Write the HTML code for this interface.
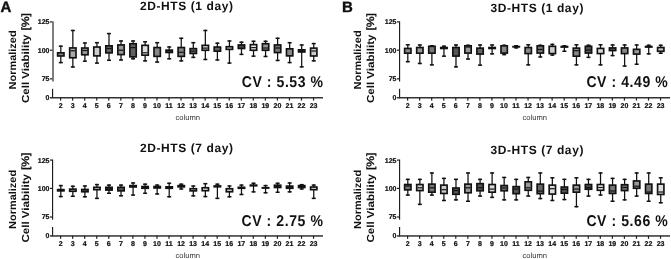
<!DOCTYPE html>
<html><head><meta charset="utf-8"><style>
html,body{margin:0;padding:0;background:#fff;width:671px;height:259px;overflow:hidden}
svg{display:block;will-change:transform}
text{font-family:"Liberation Sans", sans-serif;text-rendering:geometricPrecision}
</style></head><body>
<svg width="671" height="259" viewBox="0 0 671 259">
<rect width="671" height="259" fill="#fff"/>
<rect x="52" y="21.3" width="2" height="60.2" fill="#7e7e7e"/>
<rect x="52" y="88.8" width="1.15" height="9.4" fill="#1e1e1e"/>
<rect x="50" y="21.3" width="2.3" height="1.2" fill="#222"/>
<rect x="50" y="49.6" width="2.3" height="1.2" fill="#222"/>
<rect x="50" y="78.2" width="2.3" height="1.2" fill="#222"/>
<rect x="50" y="97" width="273" height="1.5" fill="#333"/>
<rect x="60" y="97.6" width="1.2" height="3" fill="#222"/>
<rect x="72.05" y="97.6" width="1.2" height="3" fill="#222"/>
<rect x="84.09" y="97.6" width="1.2" height="3" fill="#222"/>
<rect x="96.14" y="97.6" width="1.2" height="3" fill="#222"/>
<rect x="108.18" y="97.6" width="1.2" height="3" fill="#222"/>
<rect x="120.23" y="97.6" width="1.2" height="3" fill="#222"/>
<rect x="132.27" y="97.6" width="1.2" height="3" fill="#222"/>
<rect x="144.31" y="97.6" width="1.2" height="3" fill="#222"/>
<rect x="156.36" y="97.6" width="1.2" height="3" fill="#222"/>
<rect x="168.41" y="97.6" width="1.2" height="3" fill="#222"/>
<rect x="180.45" y="97.6" width="1.2" height="3" fill="#222"/>
<rect x="192.5" y="97.6" width="1.2" height="3" fill="#222"/>
<rect x="204.54" y="97.6" width="1.2" height="3" fill="#222"/>
<rect x="216.59" y="97.6" width="1.2" height="3" fill="#222"/>
<rect x="228.63" y="97.6" width="1.2" height="3" fill="#222"/>
<rect x="240.68" y="97.6" width="1.2" height="3" fill="#222"/>
<rect x="252.72" y="97.6" width="1.2" height="3" fill="#222"/>
<rect x="264.76" y="97.6" width="1.2" height="3" fill="#222"/>
<rect x="276.81" y="97.6" width="1.2" height="3" fill="#222"/>
<rect x="288.85" y="97.6" width="1.2" height="3" fill="#222"/>
<rect x="300.9" y="97.6" width="1.2" height="3" fill="#222"/>
<rect x="312.94" y="97.6" width="1.2" height="3" fill="#222"/>
<g font-family="Liberation Sans, sans-serif" font-weight="bold" font-size="7" fill="#111" stroke="#111" stroke-width="0.22" text-anchor="end">
<text x="49.5" y="24.35">125</text>
<text x="49.5" y="52.65">100</text>
<text x="49.5" y="81.25">75</text>
<text x="49.5" y="100.05">0</text>
</g>
<g font-family="Liberation Sans, sans-serif" font-weight="bold" font-size="7" fill="#111" stroke="#111" stroke-width="0.22" text-anchor="middle">
<text x="60.6" y="108.1">2</text>
<text x="72.64" y="108.1">3</text>
<text x="84.69" y="108.1">4</text>
<text x="96.73" y="108.1">5</text>
<text x="108.78" y="108.1">6</text>
<text x="120.83" y="108.1">7</text>
<text x="132.87" y="108.1">8</text>
<text x="144.91" y="108.1">9</text>
<text x="156.96" y="108.1">10</text>
<text x="169" y="108.1">11</text>
<text x="181.05" y="108.1">12</text>
<text x="193.09" y="108.1">13</text>
<text x="205.14" y="108.1">14</text>
<text x="217.19" y="108.1">15</text>
<text x="229.23" y="108.1">16</text>
<text x="241.28" y="108.1">17</text>
<text x="253.32" y="108.1">18</text>
<text x="265.37" y="108.1">19</text>
<text x="277.41" y="108.1">20</text>
<text x="289.45" y="108.1">21</text>
<text x="301.5" y="108.1">22</text>
<text x="313.55" y="108.1">23</text>
</g>
<text x="187.7" y="119.6" font-family="Liberation Sans, sans-serif" font-size="7.6" fill="#333" text-anchor="middle">column</text>
<g>
<rect x="60.18" y="45.45" width="1.25" height="17.85" fill="#111"/>
<rect x="58.8" y="45.45" width="4" height="1.5" fill="#111"/>
<rect x="58.8" y="61.8" width="4" height="1.5" fill="#111"/>
<rect x="56.8" y="52" width="8" height="4.8" fill="#111"/>
<rect x="58.45" y="53.65" width="4.7" height="1.5" fill="#888"/>
</g>
<g>
<rect x="72.22" y="29.75" width="1.25" height="37.95" fill="#111"/>
<rect x="70.84" y="29.75" width="4" height="1.5" fill="#111"/>
<rect x="70.84" y="66.2" width="4" height="1.5" fill="#111"/>
<rect x="68.84" y="47.1" width="8" height="11.5" fill="#111"/>
<rect x="70.5" y="48.75" width="4.7" height="8.2" fill="#aaa"/>
<rect x="70.5" y="50.2" width="4.7" height="1.2" fill="#111"/>
</g>
<g>
<rect x="84.27" y="42.25" width="1.25" height="19.65" fill="#111"/>
<rect x="82.89" y="42.25" width="4" height="1.5" fill="#111"/>
<rect x="82.89" y="60.4" width="4" height="1.5" fill="#111"/>
<rect x="80.89" y="47.2" width="8" height="8.4" fill="#111"/>
<rect x="82.54" y="48.85" width="4.7" height="5.1" fill="#999"/>
<rect x="82.54" y="49.9" width="4.7" height="1.2" fill="#111"/>
</g>
<g>
<rect x="96.31" y="41.95" width="1.25" height="21.85" fill="#111"/>
<rect x="94.94" y="41.95" width="4" height="1.5" fill="#111"/>
<rect x="94.94" y="62.3" width="4" height="1.5" fill="#111"/>
<rect x="92.94" y="46.2" width="8" height="10.5" fill="#111"/>
<rect x="94.59" y="47.85" width="4.7" height="7.2" fill="#ccc"/>
</g>
<g>
<rect x="108.36" y="32.85" width="1.25" height="28.15" fill="#111"/>
<rect x="106.98" y="32.85" width="4" height="1.5" fill="#111"/>
<rect x="106.98" y="59.5" width="4" height="1.5" fill="#111"/>
<rect x="104.98" y="45" width="8" height="8.7" fill="#111"/>
<rect x="106.63" y="46.65" width="4.7" height="5.4" fill="#666"/>
<rect x="106.63" y="47.9" width="4.7" height="1.2" fill="#111"/>
</g>
<g>
<rect x="120.4" y="40.25" width="1.25" height="20.45" fill="#111"/>
<rect x="119.03" y="40.25" width="4" height="1.5" fill="#111"/>
<rect x="119.03" y="59.2" width="4" height="1.5" fill="#111"/>
<rect x="117.03" y="44.1" width="8" height="11.3" fill="#111"/>
<rect x="118.68" y="45.75" width="4.7" height="8" fill="#999"/>
<rect x="118.68" y="49.6" width="4.7" height="1.2" fill="#111"/>
</g>
<g>
<rect x="132.44" y="40.25" width="1.25" height="19.25" fill="#111"/>
<rect x="131.07" y="40.25" width="4" height="1.5" fill="#111"/>
<rect x="131.07" y="58" width="4" height="1.5" fill="#111"/>
<rect x="129.07" y="42.9" width="8" height="14.8" fill="#111"/>
<rect x="130.72" y="44.55" width="4.7" height="11.5" fill="#606060"/>
<rect x="130.72" y="47" width="4.7" height="1.2" fill="#111"/>
</g>
<g>
<rect x="144.49" y="41.05" width="1.25" height="20.55" fill="#111"/>
<rect x="143.11" y="41.05" width="4" height="1.5" fill="#111"/>
<rect x="143.11" y="60.1" width="4" height="1.5" fill="#111"/>
<rect x="141.11" y="44.5" width="8" height="11.5" fill="#111"/>
<rect x="142.76" y="46.15" width="4.7" height="8.2" fill="#ddd"/>
<rect x="142.76" y="52.2" width="4.7" height="1.2" fill="#111"/>
</g>
<g>
<rect x="156.53" y="41.95" width="1.25" height="20.85" fill="#111"/>
<rect x="155.16" y="41.95" width="4" height="1.5" fill="#111"/>
<rect x="155.16" y="61.3" width="4" height="1.5" fill="#111"/>
<rect x="153.16" y="46.7" width="8" height="10.5" fill="#111"/>
<rect x="154.81" y="48.35" width="4.7" height="7.2" fill="#888"/>
</g>
<g>
<rect x="168.58" y="46.25" width="1.25" height="13.25" fill="#111"/>
<rect x="167.2" y="46.25" width="4" height="1.5" fill="#111"/>
<rect x="167.2" y="58" width="4" height="1.5" fill="#111"/>
<rect x="165.2" y="49.3" width="8" height="4" fill="#111"/>
<rect x="166.85" y="50.95" width="4.7" height="0.7" fill="#333"/>
</g>
<g>
<rect x="180.62" y="37.55" width="1.25" height="24.05" fill="#111"/>
<rect x="179.25" y="37.55" width="4" height="1.5" fill="#111"/>
<rect x="179.25" y="60.1" width="4" height="1.5" fill="#111"/>
<rect x="177.25" y="46.7" width="8" height="10.5" fill="#111"/>
<rect x="178.9" y="48.35" width="4.7" height="7.2" fill="#888"/>
<rect x="178.9" y="51.7" width="4.7" height="1.2" fill="#111"/>
</g>
<g>
<rect x="192.67" y="41.95" width="1.25" height="16.15" fill="#111"/>
<rect x="191.29" y="41.95" width="4" height="1.5" fill="#111"/>
<rect x="191.29" y="56.6" width="4" height="1.5" fill="#111"/>
<rect x="189.29" y="47.8" width="8" height="6.5" fill="#111"/>
<rect x="190.94" y="49.45" width="4.7" height="3.2" fill="#777"/>
<rect x="190.94" y="50.5" width="4.7" height="1.2" fill="#111"/>
</g>
<g>
<rect x="204.71" y="29.75" width="1.25" height="30.45" fill="#111"/>
<rect x="203.34" y="29.75" width="4" height="1.5" fill="#111"/>
<rect x="203.34" y="58.7" width="4" height="1.5" fill="#111"/>
<rect x="201.34" y="44.5" width="8" height="6.6" fill="#111"/>
<rect x="202.99" y="46.15" width="4.7" height="3.3" fill="#d4d4d4"/>
<rect x="202.99" y="47.5" width="4.7" height="1.2" fill="#111"/>
</g>
<g>
<rect x="216.76" y="42.45" width="1.25" height="18.25" fill="#111"/>
<rect x="215.38" y="42.45" width="4" height="1.5" fill="#111"/>
<rect x="215.38" y="59.2" width="4" height="1.5" fill="#111"/>
<rect x="213.38" y="46.2" width="8" height="5.8" fill="#111"/>
<rect x="215.03" y="47.85" width="4.7" height="2.5" fill="#666"/>
</g>
<g>
<rect x="228.8" y="40.25" width="1.25" height="23.55" fill="#111"/>
<rect x="227.43" y="40.25" width="4" height="1.5" fill="#111"/>
<rect x="227.43" y="62.3" width="4" height="1.5" fill="#111"/>
<rect x="225.43" y="45.9" width="8" height="4.3" fill="#111"/>
<rect x="227.08" y="47.55" width="4.7" height="1" fill="#ccc"/>
</g>
<g>
<rect x="240.85" y="41.45" width="1.25" height="13.65" fill="#111"/>
<rect x="239.47" y="41.45" width="4" height="1.5" fill="#111"/>
<rect x="239.47" y="53.6" width="4" height="1.5" fill="#111"/>
<rect x="237.47" y="44.1" width="8" height="5.2" fill="#111"/>
<rect x="239.12" y="45.75" width="4.7" height="1.9" fill="#444"/>
</g>
<g>
<rect x="252.89" y="40.55" width="1.25" height="16.35" fill="#111"/>
<rect x="251.52" y="40.55" width="4" height="1.5" fill="#111"/>
<rect x="251.52" y="55.4" width="4" height="1.5" fill="#111"/>
<rect x="249.52" y="43.8" width="8" height="7.3" fill="#111"/>
<rect x="251.17" y="45.45" width="4.7" height="4" fill="#eee"/>
<rect x="251.17" y="47" width="4.7" height="1.2" fill="#111"/>
</g>
<g>
<rect x="264.94" y="40.55" width="1.25" height="16.65" fill="#111"/>
<rect x="263.56" y="40.55" width="4" height="1.5" fill="#111"/>
<rect x="263.56" y="55.7" width="4" height="1.5" fill="#111"/>
<rect x="261.56" y="42.9" width="8" height="8.2" fill="#111"/>
<rect x="263.21" y="44.55" width="4.7" height="4.9" fill="#999"/>
<rect x="263.21" y="47.4" width="4.7" height="1.2" fill="#111"/>
</g>
<g>
<rect x="276.99" y="37.55" width="1.25" height="23.65" fill="#111"/>
<rect x="275.61" y="37.55" width="4" height="1.5" fill="#111"/>
<rect x="275.61" y="59.7" width="4" height="1.5" fill="#111"/>
<rect x="273.61" y="44.1" width="8" height="9.3" fill="#111"/>
<rect x="275.26" y="45.75" width="4.7" height="6" fill="#777"/>
<rect x="275.26" y="47.4" width="4.7" height="1.2" fill="#111"/>
</g>
<g>
<rect x="289.03" y="41.95" width="1.25" height="21.35" fill="#111"/>
<rect x="287.65" y="41.95" width="4" height="1.5" fill="#111"/>
<rect x="287.65" y="61.8" width="4" height="1.5" fill="#111"/>
<rect x="285.65" y="48" width="8" height="8.7" fill="#111"/>
<rect x="287.3" y="49.65" width="4.7" height="5.4" fill="#888"/>
</g>
<g>
<rect x="301.07" y="44.25" width="1.25" height="23.35" fill="#111"/>
<rect x="299.7" y="44.25" width="4" height="1.5" fill="#111"/>
<rect x="299.7" y="66.1" width="4" height="1.5" fill="#111"/>
<rect x="297.7" y="49" width="8" height="3.8" fill="#111"/>
<rect x="299.35" y="50.65" width="4.7" height="0.5" fill="#222"/>
</g>
<g>
<rect x="313.12" y="42.85" width="1.25" height="18.75" fill="#111"/>
<rect x="311.75" y="42.85" width="4" height="1.5" fill="#111"/>
<rect x="311.75" y="60.1" width="4" height="1.5" fill="#111"/>
<rect x="309.75" y="47.3" width="8" height="9.5" fill="#111"/>
<rect x="311.39" y="48.95" width="4.7" height="6.2" fill="#ccc"/>
<rect x="311.39" y="50.4" width="4.7" height="1.2" fill="#111"/>
</g>
<rect x="52" y="159.5" width="1.15" height="60.2" fill="#1e1e1e"/>
<rect x="52" y="227" width="1.15" height="9.4" fill="#1e1e1e"/>
<rect x="50" y="159.5" width="2.3" height="1.2" fill="#222"/>
<rect x="50" y="187.8" width="2.3" height="1.2" fill="#222"/>
<rect x="50" y="216.4" width="2.3" height="1.2" fill="#222"/>
<rect x="50" y="235.2" width="273" height="1.5" fill="#333"/>
<rect x="60" y="235.8" width="1.2" height="3" fill="#222"/>
<rect x="72.05" y="235.8" width="1.2" height="3" fill="#222"/>
<rect x="84.09" y="235.8" width="1.2" height="3" fill="#222"/>
<rect x="96.14" y="235.8" width="1.2" height="3" fill="#222"/>
<rect x="108.18" y="235.8" width="1.2" height="3" fill="#222"/>
<rect x="120.23" y="235.8" width="1.2" height="3" fill="#222"/>
<rect x="132.27" y="235.8" width="1.2" height="3" fill="#222"/>
<rect x="144.31" y="235.8" width="1.2" height="3" fill="#222"/>
<rect x="156.36" y="235.8" width="1.2" height="3" fill="#222"/>
<rect x="168.41" y="235.8" width="1.2" height="3" fill="#222"/>
<rect x="180.45" y="235.8" width="1.2" height="3" fill="#222"/>
<rect x="192.5" y="235.8" width="1.2" height="3" fill="#222"/>
<rect x="204.54" y="235.8" width="1.2" height="3" fill="#222"/>
<rect x="216.59" y="235.8" width="1.2" height="3" fill="#222"/>
<rect x="228.63" y="235.8" width="1.2" height="3" fill="#222"/>
<rect x="240.68" y="235.8" width="1.2" height="3" fill="#222"/>
<rect x="252.72" y="235.8" width="1.2" height="3" fill="#222"/>
<rect x="264.76" y="235.8" width="1.2" height="3" fill="#222"/>
<rect x="276.81" y="235.8" width="1.2" height="3" fill="#222"/>
<rect x="288.85" y="235.8" width="1.2" height="3" fill="#222"/>
<rect x="300.9" y="235.8" width="1.2" height="3" fill="#222"/>
<rect x="312.94" y="235.8" width="1.2" height="3" fill="#222"/>
<g font-family="Liberation Sans, sans-serif" font-weight="bold" font-size="7" fill="#111" stroke="#111" stroke-width="0.22" text-anchor="end">
<text x="49.5" y="162.55">125</text>
<text x="49.5" y="190.85">100</text>
<text x="49.5" y="219.45">75</text>
<text x="49.5" y="238.25">0</text>
</g>
<g font-family="Liberation Sans, sans-serif" font-weight="bold" font-size="7" fill="#111" stroke="#111" stroke-width="0.22" text-anchor="middle">
<text x="60.6" y="246.3">2</text>
<text x="72.64" y="246.3">3</text>
<text x="84.69" y="246.3">4</text>
<text x="96.73" y="246.3">5</text>
<text x="108.78" y="246.3">6</text>
<text x="120.83" y="246.3">7</text>
<text x="132.87" y="246.3">8</text>
<text x="144.91" y="246.3">9</text>
<text x="156.96" y="246.3">10</text>
<text x="169" y="246.3">11</text>
<text x="181.05" y="246.3">12</text>
<text x="193.09" y="246.3">13</text>
<text x="205.14" y="246.3">14</text>
<text x="217.19" y="246.3">15</text>
<text x="229.23" y="246.3">16</text>
<text x="241.28" y="246.3">17</text>
<text x="253.32" y="246.3">18</text>
<text x="265.37" y="246.3">19</text>
<text x="277.41" y="246.3">20</text>
<text x="289.45" y="246.3">21</text>
<text x="301.5" y="246.3">22</text>
<text x="313.55" y="246.3">23</text>
</g>
<text x="187.7" y="257.8" font-family="Liberation Sans, sans-serif" font-size="7.6" fill="#333" text-anchor="middle">column</text>
<g>
<rect x="60.18" y="184.85" width="1.25" height="12.45" fill="#111"/>
<rect x="58.8" y="184.85" width="4" height="1.5" fill="#111"/>
<rect x="58.8" y="195.8" width="4" height="1.5" fill="#111"/>
<rect x="56.8" y="188.8" width="8" height="2.9" fill="#111"/>
</g>
<g>
<rect x="72.22" y="185.55" width="1.25" height="11.45" fill="#111"/>
<rect x="70.84" y="185.55" width="4" height="1.5" fill="#111"/>
<rect x="70.84" y="195.5" width="4" height="1.5" fill="#111"/>
<rect x="68.84" y="188.3" width="8" height="3.8" fill="#111"/>
<rect x="70.5" y="189.95" width="4.7" height="0.5" fill="#bbb"/>
</g>
<g>
<rect x="84.27" y="185.25" width="1.25" height="12.25" fill="#111"/>
<rect x="82.89" y="185.25" width="4" height="1.5" fill="#111"/>
<rect x="82.89" y="196" width="4" height="1.5" fill="#111"/>
<rect x="80.89" y="188.6" width="8" height="4" fill="#111"/>
<rect x="82.54" y="190.25" width="4.7" height="0.7" fill="#444"/>
</g>
<g>
<rect x="96.31" y="183.85" width="1.25" height="15.25" fill="#111"/>
<rect x="94.94" y="183.85" width="4" height="1.5" fill="#111"/>
<rect x="94.94" y="197.6" width="4" height="1.5" fill="#111"/>
<rect x="92.94" y="186.5" width="8" height="4" fill="#111"/>
<rect x="94.59" y="188.15" width="4.7" height="0.7" fill="#ddd"/>
</g>
<g>
<rect x="108.36" y="184.35" width="1.25" height="9.65" fill="#111"/>
<rect x="106.98" y="184.35" width="4" height="1.5" fill="#111"/>
<rect x="106.98" y="192.5" width="4" height="1.5" fill="#111"/>
<rect x="104.98" y="186.5" width="8" height="4.4" fill="#111"/>
<rect x="106.63" y="188.15" width="4.7" height="1.1" fill="#222"/>
</g>
<g>
<rect x="120.4" y="184.35" width="1.25" height="12.15" fill="#111"/>
<rect x="119.03" y="184.35" width="4" height="1.5" fill="#111"/>
<rect x="119.03" y="195" width="4" height="1.5" fill="#111"/>
<rect x="117.03" y="186.5" width="8" height="5.2" fill="#111"/>
<rect x="118.68" y="188.15" width="4.7" height="1.9" fill="#555"/>
</g>
<g>
<rect x="132.44" y="182.25" width="1.25" height="13.55" fill="#111"/>
<rect x="131.07" y="182.25" width="4" height="1.5" fill="#111"/>
<rect x="131.07" y="194.3" width="4" height="1.5" fill="#111"/>
<rect x="129.07" y="184.8" width="8" height="3" fill="#111"/>
</g>
<g>
<rect x="144.49" y="183.45" width="1.25" height="10.55" fill="#111"/>
<rect x="143.11" y="183.45" width="4" height="1.5" fill="#111"/>
<rect x="143.11" y="192.5" width="4" height="1.5" fill="#111"/>
<rect x="141.11" y="185.7" width="8" height="3.4" fill="#111"/>
</g>
<g>
<rect x="156.53" y="184.35" width="1.25" height="10.35" fill="#111"/>
<rect x="155.16" y="184.35" width="4" height="1.5" fill="#111"/>
<rect x="155.16" y="193.2" width="4" height="1.5" fill="#111"/>
<rect x="153.16" y="185.7" width="8" height="3.1" fill="#111"/>
</g>
<g>
<rect x="168.58" y="182.55" width="1.25" height="14.95" fill="#111"/>
<rect x="167.2" y="182.55" width="4" height="1.5" fill="#111"/>
<rect x="167.2" y="196" width="4" height="1.5" fill="#111"/>
<rect x="165.2" y="186" width="8" height="3.1" fill="#111"/>
</g>
<g>
<rect x="180.62" y="183.45" width="1.25" height="6.25" fill="#111"/>
<rect x="179.25" y="183.45" width="4" height="1.5" fill="#111"/>
<rect x="179.25" y="188.2" width="4" height="1.5" fill="#111"/>
<rect x="177.25" y="184.8" width="8" height="2.9" fill="#111"/>
</g>
<g>
<rect x="192.67" y="185.25" width="1.25" height="11.35" fill="#111"/>
<rect x="191.29" y="185.25" width="4" height="1.5" fill="#111"/>
<rect x="191.29" y="195.1" width="4" height="1.5" fill="#111"/>
<rect x="189.29" y="187.9" width="8" height="3.8" fill="#111"/>
<rect x="190.94" y="189.55" width="4.7" height="0.5" fill="#ccc"/>
</g>
<g>
<rect x="204.71" y="182.95" width="1.25" height="14.35" fill="#111"/>
<rect x="203.34" y="182.95" width="4" height="1.5" fill="#111"/>
<rect x="203.34" y="195.8" width="4" height="1.5" fill="#111"/>
<rect x="201.34" y="186.9" width="8" height="4.6" fill="#111"/>
<rect x="202.99" y="188.55" width="4.7" height="1.3" fill="#ddd"/>
</g>
<g>
<rect x="216.76" y="183.45" width="1.25" height="15.65" fill="#111"/>
<rect x="215.38" y="183.45" width="4" height="1.5" fill="#111"/>
<rect x="215.38" y="197.6" width="4" height="1.5" fill="#111"/>
<rect x="213.38" y="185.1" width="8" height="2.5" fill="#111"/>
</g>
<g>
<rect x="228.8" y="185.25" width="1.25" height="12.25" fill="#111"/>
<rect x="227.43" y="185.25" width="4" height="1.5" fill="#111"/>
<rect x="227.43" y="196" width="4" height="1.5" fill="#111"/>
<rect x="225.43" y="187.9" width="8" height="4.7" fill="#111"/>
<rect x="227.08" y="189.55" width="4.7" height="1.4" fill="#ccc"/>
</g>
<g>
<rect x="240.85" y="184.35" width="1.25" height="10.85" fill="#111"/>
<rect x="239.47" y="184.35" width="4" height="1.5" fill="#111"/>
<rect x="239.47" y="193.7" width="4" height="1.5" fill="#111"/>
<rect x="237.47" y="186.5" width="8" height="2.6" fill="#111"/>
</g>
<g>
<rect x="252.89" y="182.55" width="1.25" height="10.05" fill="#111"/>
<rect x="251.52" y="182.55" width="4" height="1.5" fill="#111"/>
<rect x="251.52" y="191.1" width="4" height="1.5" fill="#111"/>
<rect x="249.52" y="184.3" width="8" height="2.3" fill="#111"/>
</g>
<g>
<rect x="264.94" y="184.85" width="1.25" height="8.65" fill="#111"/>
<rect x="263.56" y="184.85" width="4" height="1.5" fill="#111"/>
<rect x="263.56" y="192" width="4" height="1.5" fill="#111"/>
<rect x="261.56" y="186.9" width="8" height="2" fill="#111"/>
</g>
<g>
<rect x="276.99" y="182.55" width="1.25" height="10.45" fill="#111"/>
<rect x="275.61" y="182.55" width="4" height="1.5" fill="#111"/>
<rect x="275.61" y="191.5" width="4" height="1.5" fill="#111"/>
<rect x="273.61" y="184.4" width="8" height="3.9" fill="#111"/>
<rect x="275.26" y="186.05" width="4.7" height="0.6" fill="#222"/>
</g>
<g>
<rect x="289.03" y="182.25" width="1.25" height="10.35" fill="#111"/>
<rect x="287.65" y="182.25" width="4" height="1.5" fill="#111"/>
<rect x="287.65" y="191.1" width="4" height="1.5" fill="#111"/>
<rect x="285.65" y="185.3" width="8" height="3.8" fill="#111"/>
<rect x="287.3" y="186.95" width="4.7" height="0.5" fill="#222"/>
</g>
<g>
<rect x="301.07" y="183.95" width="1.25" height="5.75" fill="#111"/>
<rect x="299.7" y="183.95" width="4" height="1.5" fill="#111"/>
<rect x="299.7" y="188.2" width="4" height="1.5" fill="#111"/>
<rect x="297.7" y="184.8" width="8" height="3.5" fill="#111"/>
</g>
<g>
<rect x="313.12" y="184.35" width="1.25" height="14.75" fill="#111"/>
<rect x="311.75" y="184.35" width="4" height="1.5" fill="#111"/>
<rect x="311.75" y="197.6" width="4" height="1.5" fill="#111"/>
<rect x="309.75" y="186.2" width="8" height="4.3" fill="#111"/>
<rect x="311.39" y="187.85" width="4.7" height="1" fill="#ddd"/>
</g>
<rect x="399" y="21.3" width="1.15" height="60.2" fill="#1e1e1e"/>
<rect x="399" y="88.8" width="1.15" height="9.4" fill="#1e1e1e"/>
<rect x="397" y="21.3" width="2.3" height="1.2" fill="#222"/>
<rect x="397" y="49.6" width="2.3" height="1.2" fill="#222"/>
<rect x="397" y="78.2" width="2.3" height="1.2" fill="#222"/>
<rect x="397" y="97" width="273" height="1.5" fill="#333"/>
<rect x="407" y="97.6" width="1.2" height="3" fill="#222"/>
<rect x="419.05" y="97.6" width="1.2" height="3" fill="#222"/>
<rect x="431.09" y="97.6" width="1.2" height="3" fill="#222"/>
<rect x="443.13" y="97.6" width="1.2" height="3" fill="#222"/>
<rect x="455.18" y="97.6" width="1.2" height="3" fill="#222"/>
<rect x="467.23" y="97.6" width="1.2" height="3" fill="#222"/>
<rect x="479.27" y="97.6" width="1.2" height="3" fill="#222"/>
<rect x="491.31" y="97.6" width="1.2" height="3" fill="#222"/>
<rect x="503.36" y="97.6" width="1.2" height="3" fill="#222"/>
<rect x="515.4" y="97.6" width="1.2" height="3" fill="#222"/>
<rect x="527.45" y="97.6" width="1.2" height="3" fill="#222"/>
<rect x="539.5" y="97.6" width="1.2" height="3" fill="#222"/>
<rect x="551.54" y="97.6" width="1.2" height="3" fill="#222"/>
<rect x="563.59" y="97.6" width="1.2" height="3" fill="#222"/>
<rect x="575.63" y="97.6" width="1.2" height="3" fill="#222"/>
<rect x="587.68" y="97.6" width="1.2" height="3" fill="#222"/>
<rect x="599.72" y="97.6" width="1.2" height="3" fill="#222"/>
<rect x="611.76" y="97.6" width="1.2" height="3" fill="#222"/>
<rect x="623.81" y="97.6" width="1.2" height="3" fill="#222"/>
<rect x="635.86" y="97.6" width="1.2" height="3" fill="#222"/>
<rect x="647.9" y="97.6" width="1.2" height="3" fill="#222"/>
<rect x="659.95" y="97.6" width="1.2" height="3" fill="#222"/>
<g font-family="Liberation Sans, sans-serif" font-weight="bold" font-size="7" fill="#111" stroke="#111" stroke-width="0.22" text-anchor="end">
<text x="396.5" y="24.35">125</text>
<text x="396.5" y="52.65">100</text>
<text x="396.5" y="81.25">75</text>
<text x="396.5" y="100.05">0</text>
</g>
<g font-family="Liberation Sans, sans-serif" font-weight="bold" font-size="7" fill="#111" stroke="#111" stroke-width="0.22" text-anchor="middle">
<text x="407.6" y="108.1">2</text>
<text x="419.65" y="108.1">3</text>
<text x="431.69" y="108.1">4</text>
<text x="443.74" y="108.1">5</text>
<text x="455.78" y="108.1">6</text>
<text x="467.83" y="108.1">7</text>
<text x="479.87" y="108.1">8</text>
<text x="491.92" y="108.1">9</text>
<text x="503.96" y="108.1">10</text>
<text x="516" y="108.1">11</text>
<text x="528.05" y="108.1">12</text>
<text x="540.1" y="108.1">13</text>
<text x="552.14" y="108.1">14</text>
<text x="564.19" y="108.1">15</text>
<text x="576.23" y="108.1">16</text>
<text x="588.28" y="108.1">17</text>
<text x="600.32" y="108.1">18</text>
<text x="612.37" y="108.1">19</text>
<text x="624.41" y="108.1">20</text>
<text x="636.46" y="108.1">21</text>
<text x="648.5" y="108.1">22</text>
<text x="660.55" y="108.1">23</text>
</g>
<text x="534.7" y="119.6" font-family="Liberation Sans, sans-serif" font-size="7.6" fill="#333" text-anchor="middle">column</text>
<g>
<rect x="407.18" y="44.05" width="1.25" height="18.35" fill="#111"/>
<rect x="405.8" y="44.05" width="4" height="1.5" fill="#111"/>
<rect x="405.8" y="60.9" width="4" height="1.5" fill="#111"/>
<rect x="403.8" y="47.6" width="8" height="6.4" fill="#111"/>
<rect x="405.45" y="49.25" width="4.7" height="3.1" fill="#888"/>
</g>
<g>
<rect x="419.22" y="44.25" width="1.25" height="19.95" fill="#111"/>
<rect x="417.85" y="44.25" width="4" height="1.5" fill="#111"/>
<rect x="417.85" y="62.7" width="4" height="1.5" fill="#111"/>
<rect x="415.85" y="46.7" width="8" height="7.3" fill="#111"/>
<rect x="417.5" y="48.35" width="4.7" height="4" fill="#999"/>
</g>
<g>
<rect x="431.26" y="45.05" width="1.25" height="20.55" fill="#111"/>
<rect x="429.89" y="45.05" width="4" height="1.5" fill="#111"/>
<rect x="429.89" y="64.1" width="4" height="1.5" fill="#111"/>
<rect x="427.89" y="45.5" width="8" height="8.5" fill="#111"/>
<rect x="429.54" y="47.15" width="4.7" height="5.2" fill="#777"/>
</g>
<g>
<rect x="443.31" y="45.45" width="1.25" height="11.45" fill="#111"/>
<rect x="441.94" y="45.45" width="4" height="1.5" fill="#111"/>
<rect x="441.94" y="55.4" width="4" height="1.5" fill="#111"/>
<rect x="439.94" y="46.7" width="8" height="2.6" fill="#111"/>
</g>
<g>
<rect x="455.36" y="44.25" width="1.25" height="23.35" fill="#111"/>
<rect x="453.98" y="44.25" width="4" height="1.5" fill="#111"/>
<rect x="453.98" y="66.1" width="4" height="1.5" fill="#111"/>
<rect x="451.98" y="46.7" width="8" height="10.2" fill="#111"/>
<rect x="453.63" y="48.35" width="4.7" height="6.9" fill="#555"/>
</g>
<g>
<rect x="467.4" y="44.55" width="1.25" height="15.25" fill="#111"/>
<rect x="466.03" y="44.55" width="4" height="1.5" fill="#111"/>
<rect x="466.03" y="58.3" width="4" height="1.5" fill="#111"/>
<rect x="464.03" y="45" width="8" height="8.9" fill="#111"/>
<rect x="465.68" y="46.65" width="4.7" height="5.6" fill="#999"/>
<rect x="465.68" y="46.4" width="4.7" height="1.2" fill="#111"/>
</g>
<g>
<rect x="479.44" y="44.25" width="1.25" height="21.65" fill="#111"/>
<rect x="478.07" y="44.25" width="4" height="1.5" fill="#111"/>
<rect x="478.07" y="64.4" width="4" height="1.5" fill="#111"/>
<rect x="476.07" y="47.3" width="8" height="7.6" fill="#111"/>
<rect x="477.72" y="48.95" width="4.7" height="4.3" fill="#666"/>
</g>
<g>
<rect x="491.49" y="44.25" width="1.25" height="10.35" fill="#111"/>
<rect x="490.12" y="44.25" width="4" height="1.5" fill="#111"/>
<rect x="490.12" y="53.1" width="4" height="1.5" fill="#111"/>
<rect x="488.12" y="46.7" width="8" height="2.6" fill="#111"/>
</g>
<g>
<rect x="503.54" y="44.55" width="1.25" height="10.75" fill="#111"/>
<rect x="502.16" y="44.55" width="4" height="1.5" fill="#111"/>
<rect x="502.16" y="53.8" width="4" height="1.5" fill="#111"/>
<rect x="500.16" y="45" width="8" height="8.9" fill="#111"/>
<rect x="501.81" y="46.65" width="4.7" height="5.6" fill="#888"/>
</g>
<g>
<rect x="515.58" y="45" width="1.25" height="3.6" fill="#111"/>
<rect x="514.21" y="45" width="4" height="1.5" fill="#111"/>
<rect x="514.21" y="47.1" width="4" height="1.5" fill="#111"/>
<rect x="512.21" y="45.8" width="8" height="1.9" fill="#111"/>
</g>
<g>
<rect x="527.63" y="44.05" width="1.25" height="21.55" fill="#111"/>
<rect x="526.25" y="44.05" width="4" height="1.5" fill="#111"/>
<rect x="526.25" y="64.1" width="4" height="1.5" fill="#111"/>
<rect x="524.25" y="46.7" width="8" height="7.7" fill="#111"/>
<rect x="525.9" y="48.35" width="4.7" height="4.4" fill="#888"/>
</g>
<g>
<rect x="539.67" y="44.55" width="1.25" height="13.15" fill="#111"/>
<rect x="538.3" y="44.55" width="4" height="1.5" fill="#111"/>
<rect x="538.3" y="56.2" width="4" height="1.5" fill="#111"/>
<rect x="536.3" y="45" width="8" height="8.9" fill="#111"/>
<rect x="537.95" y="46.65" width="4.7" height="5.6" fill="#777"/>
<rect x="537.95" y="48.9" width="4.7" height="1.2" fill="#111"/>
</g>
<g>
<rect x="551.72" y="43.65" width="1.25" height="12.15" fill="#111"/>
<rect x="550.34" y="43.65" width="4" height="1.5" fill="#111"/>
<rect x="550.34" y="54.3" width="4" height="1.5" fill="#111"/>
<rect x="548.34" y="45.5" width="8" height="8.9" fill="#111"/>
<rect x="549.99" y="47.15" width="4.7" height="5.6" fill="#ccc"/>
</g>
<g>
<rect x="563.76" y="45.05" width="1.25" height="6.95" fill="#111"/>
<rect x="562.39" y="45.05" width="4" height="1.5" fill="#111"/>
<rect x="562.39" y="50.5" width="4" height="1.5" fill="#111"/>
<rect x="560.39" y="45.7" width="8" height="2.2" fill="#111"/>
</g>
<g>
<rect x="575.81" y="44.05" width="1.25" height="21.55" fill="#111"/>
<rect x="574.43" y="44.05" width="4" height="1.5" fill="#111"/>
<rect x="574.43" y="64.1" width="4" height="1.5" fill="#111"/>
<rect x="572.43" y="47.3" width="8" height="9.7" fill="#111"/>
<rect x="574.08" y="48.95" width="4.7" height="6.4" fill="#888"/>
<rect x="574.08" y="50.1" width="4.7" height="1.2" fill="#111"/>
</g>
<g>
<rect x="587.85" y="44.55" width="1.25" height="13.55" fill="#111"/>
<rect x="586.48" y="44.55" width="4" height="1.5" fill="#111"/>
<rect x="586.48" y="56.6" width="4" height="1.5" fill="#111"/>
<rect x="584.48" y="45.5" width="8" height="8.4" fill="#111"/>
<rect x="586.13" y="47.15" width="4.7" height="5.1" fill="#555"/>
<rect x="586.13" y="49.4" width="4.7" height="1.2" fill="#111"/>
</g>
<g>
<rect x="599.9" y="44.05" width="1.25" height="21.55" fill="#111"/>
<rect x="598.52" y="44.05" width="4" height="1.5" fill="#111"/>
<rect x="598.52" y="64.1" width="4" height="1.5" fill="#111"/>
<rect x="596.52" y="47.6" width="8" height="6.8" fill="#111"/>
<rect x="598.17" y="49.25" width="4.7" height="3.5" fill="#ddd"/>
</g>
<g>
<rect x="611.94" y="44.25" width="1.25" height="12.05" fill="#111"/>
<rect x="610.57" y="44.25" width="4" height="1.5" fill="#111"/>
<rect x="610.57" y="54.8" width="4" height="1.5" fill="#111"/>
<rect x="608.57" y="47.1" width="8" height="4.3" fill="#111"/>
<rect x="610.22" y="48.75" width="4.7" height="1" fill="#555"/>
</g>
<g>
<rect x="623.99" y="44.25" width="1.25" height="22.55" fill="#111"/>
<rect x="622.61" y="44.25" width="4" height="1.5" fill="#111"/>
<rect x="622.61" y="65.3" width="4" height="1.5" fill="#111"/>
<rect x="620.61" y="47.1" width="8" height="7.3" fill="#111"/>
<rect x="622.26" y="48.75" width="4.7" height="4" fill="#888"/>
</g>
<g>
<rect x="636.03" y="44.25" width="1.25" height="20.75" fill="#111"/>
<rect x="634.66" y="44.25" width="4" height="1.5" fill="#111"/>
<rect x="634.66" y="63.5" width="4" height="1.5" fill="#111"/>
<rect x="632.66" y="48.5" width="8" height="6.4" fill="#111"/>
<rect x="634.31" y="50.15" width="4.7" height="3.1" fill="#999"/>
</g>
<g>
<rect x="648.08" y="44.55" width="1.25" height="10.05" fill="#111"/>
<rect x="646.7" y="44.55" width="4" height="1.5" fill="#111"/>
<rect x="646.7" y="53.1" width="4" height="1.5" fill="#111"/>
<rect x="644.7" y="45.7" width="8" height="2.2" fill="#111"/>
</g>
<g>
<rect x="660.12" y="44.55" width="1.25" height="9.45" fill="#111"/>
<rect x="658.75" y="44.55" width="4" height="1.5" fill="#111"/>
<rect x="658.75" y="52.5" width="4" height="1.5" fill="#111"/>
<rect x="656.75" y="46.7" width="8" height="5.4" fill="#111"/>
<rect x="658.4" y="48.35" width="4.7" height="2.1" fill="#ccc"/>
</g>
<rect x="399" y="159.5" width="1.15" height="60.2" fill="#1e1e1e"/>
<rect x="399" y="227" width="1.15" height="9.4" fill="#1e1e1e"/>
<rect x="397" y="159.5" width="2.3" height="1.2" fill="#222"/>
<rect x="397" y="187.8" width="2.3" height="1.2" fill="#222"/>
<rect x="397" y="216.4" width="2.3" height="1.2" fill="#222"/>
<rect x="397" y="235.2" width="273" height="1.5" fill="#333"/>
<rect x="407" y="235.8" width="1.2" height="3" fill="#222"/>
<rect x="419.05" y="235.8" width="1.2" height="3" fill="#222"/>
<rect x="431.09" y="235.8" width="1.2" height="3" fill="#222"/>
<rect x="443.13" y="235.8" width="1.2" height="3" fill="#222"/>
<rect x="455.18" y="235.8" width="1.2" height="3" fill="#222"/>
<rect x="467.23" y="235.8" width="1.2" height="3" fill="#222"/>
<rect x="479.27" y="235.8" width="1.2" height="3" fill="#222"/>
<rect x="491.31" y="235.8" width="1.2" height="3" fill="#222"/>
<rect x="503.36" y="235.8" width="1.2" height="3" fill="#222"/>
<rect x="515.4" y="235.8" width="1.2" height="3" fill="#222"/>
<rect x="527.45" y="235.8" width="1.2" height="3" fill="#222"/>
<rect x="539.5" y="235.8" width="1.2" height="3" fill="#222"/>
<rect x="551.54" y="235.8" width="1.2" height="3" fill="#222"/>
<rect x="563.59" y="235.8" width="1.2" height="3" fill="#222"/>
<rect x="575.63" y="235.8" width="1.2" height="3" fill="#222"/>
<rect x="587.68" y="235.8" width="1.2" height="3" fill="#222"/>
<rect x="599.72" y="235.8" width="1.2" height="3" fill="#222"/>
<rect x="611.76" y="235.8" width="1.2" height="3" fill="#222"/>
<rect x="623.81" y="235.8" width="1.2" height="3" fill="#222"/>
<rect x="635.86" y="235.8" width="1.2" height="3" fill="#222"/>
<rect x="647.9" y="235.8" width="1.2" height="3" fill="#222"/>
<rect x="659.95" y="235.8" width="1.2" height="3" fill="#222"/>
<g font-family="Liberation Sans, sans-serif" font-weight="bold" font-size="7" fill="#111" stroke="#111" stroke-width="0.22" text-anchor="end">
<text x="396.5" y="162.55">125</text>
<text x="396.5" y="190.85">100</text>
<text x="396.5" y="219.45">75</text>
<text x="396.5" y="238.25">0</text>
</g>
<g font-family="Liberation Sans, sans-serif" font-weight="bold" font-size="7" fill="#111" stroke="#111" stroke-width="0.22" text-anchor="middle">
<text x="407.6" y="246.3">2</text>
<text x="419.65" y="246.3">3</text>
<text x="431.69" y="246.3">4</text>
<text x="443.74" y="246.3">5</text>
<text x="455.78" y="246.3">6</text>
<text x="467.83" y="246.3">7</text>
<text x="479.87" y="246.3">8</text>
<text x="491.92" y="246.3">9</text>
<text x="503.96" y="246.3">10</text>
<text x="516" y="246.3">11</text>
<text x="528.05" y="246.3">12</text>
<text x="540.1" y="246.3">13</text>
<text x="552.14" y="246.3">14</text>
<text x="564.19" y="246.3">15</text>
<text x="576.23" y="246.3">16</text>
<text x="588.28" y="246.3">17</text>
<text x="600.32" y="246.3">18</text>
<text x="612.37" y="246.3">19</text>
<text x="624.41" y="246.3">20</text>
<text x="636.46" y="246.3">21</text>
<text x="648.5" y="246.3">22</text>
<text x="660.55" y="246.3">23</text>
</g>
<text x="534.7" y="257.8" font-family="Liberation Sans, sans-serif" font-size="7.6" fill="#333" text-anchor="middle">column</text>
<g>
<rect x="407.18" y="178.65" width="1.25" height="17.15" fill="#111"/>
<rect x="405.8" y="178.65" width="4" height="1.5" fill="#111"/>
<rect x="405.8" y="194.3" width="4" height="1.5" fill="#111"/>
<rect x="403.8" y="183.7" width="8" height="7" fill="#111"/>
<rect x="405.45" y="185.35" width="4.7" height="3.7" fill="#777"/>
<rect x="405.45" y="185.4" width="4.7" height="1.2" fill="#111"/>
</g>
<g>
<rect x="419.22" y="178.65" width="1.25" height="26.45" fill="#111"/>
<rect x="417.85" y="178.65" width="4" height="1.5" fill="#111"/>
<rect x="417.85" y="203.6" width="4" height="1.5" fill="#111"/>
<rect x="415.85" y="183.7" width="8" height="7.7" fill="#111"/>
<rect x="417.5" y="185.35" width="4.7" height="4.4" fill="#ccc"/>
<rect x="417.5" y="187.2" width="4.7" height="1.2" fill="#111"/>
</g>
<g>
<rect x="431.26" y="172.25" width="1.25" height="23.55" fill="#111"/>
<rect x="429.89" y="172.25" width="4" height="1.5" fill="#111"/>
<rect x="429.89" y="194.3" width="4" height="1.5" fill="#111"/>
<rect x="427.89" y="183.3" width="8" height="9.7" fill="#111"/>
<rect x="429.54" y="184.95" width="4.7" height="6.4" fill="#777"/>
<rect x="429.54" y="187.2" width="4.7" height="1.2" fill="#111"/>
</g>
<g>
<rect x="443.31" y="177.65" width="1.25" height="23.55" fill="#111"/>
<rect x="441.94" y="177.65" width="4" height="1.5" fill="#111"/>
<rect x="441.94" y="199.7" width="4" height="1.5" fill="#111"/>
<rect x="439.94" y="184.3" width="8" height="10" fill="#111"/>
<rect x="441.58" y="185.95" width="4.7" height="6.7" fill="#ccc"/>
<rect x="441.58" y="189.1" width="4.7" height="1.2" fill="#111"/>
</g>
<g>
<rect x="455.36" y="178.65" width="1.25" height="21.95" fill="#111"/>
<rect x="453.98" y="178.65" width="4" height="1.5" fill="#111"/>
<rect x="453.98" y="199.1" width="4" height="1.5" fill="#111"/>
<rect x="451.98" y="187.2" width="8" height="7.9" fill="#111"/>
<rect x="453.63" y="188.85" width="4.7" height="4.6" fill="#555"/>
<rect x="453.63" y="189.9" width="4.7" height="1.2" fill="#111"/>
</g>
<g>
<rect x="467.4" y="172.25" width="1.25" height="29.75" fill="#111"/>
<rect x="466.03" y="172.25" width="4" height="1.5" fill="#111"/>
<rect x="466.03" y="200.5" width="4" height="1.5" fill="#111"/>
<rect x="464.03" y="183.3" width="8" height="10.3" fill="#111"/>
<rect x="465.68" y="184.95" width="4.7" height="7" fill="#999"/>
<rect x="465.68" y="187.2" width="4.7" height="1.2" fill="#111"/>
</g>
<g>
<rect x="479.44" y="178.65" width="1.25" height="18.15" fill="#111"/>
<rect x="478.07" y="178.65" width="4" height="1.5" fill="#111"/>
<rect x="478.07" y="195.3" width="4" height="1.5" fill="#111"/>
<rect x="476.07" y="182.8" width="8" height="8.8" fill="#111"/>
<rect x="477.72" y="184.45" width="4.7" height="5.5" fill="#555"/>
<rect x="477.72" y="187.2" width="4.7" height="1.2" fill="#111"/>
</g>
<g>
<rect x="491.49" y="172.25" width="1.25" height="25.85" fill="#111"/>
<rect x="490.12" y="172.25" width="4" height="1.5" fill="#111"/>
<rect x="490.12" y="196.6" width="4" height="1.5" fill="#111"/>
<rect x="488.12" y="183.7" width="8" height="9.3" fill="#111"/>
<rect x="489.76" y="185.35" width="4.7" height="6" fill="#ddd"/>
<rect x="489.76" y="188.5" width="4.7" height="1.2" fill="#111"/>
</g>
<g>
<rect x="503.54" y="176.75" width="1.25" height="23.85" fill="#111"/>
<rect x="502.16" y="176.75" width="4" height="1.5" fill="#111"/>
<rect x="502.16" y="199.1" width="4" height="1.5" fill="#111"/>
<rect x="500.16" y="184.7" width="8" height="6.9" fill="#111"/>
<rect x="501.81" y="186.35" width="4.7" height="3.6" fill="#777"/>
<rect x="501.81" y="187.4" width="4.7" height="1.2" fill="#111"/>
</g>
<g>
<rect x="515.58" y="178.65" width="1.25" height="21.95" fill="#111"/>
<rect x="514.21" y="178.65" width="4" height="1.5" fill="#111"/>
<rect x="514.21" y="199.1" width="4" height="1.5" fill="#111"/>
<rect x="512.21" y="185.8" width="8" height="8.7" fill="#111"/>
<rect x="513.86" y="187.45" width="4.7" height="5.4" fill="#555"/>
<rect x="513.86" y="188.5" width="4.7" height="1.2" fill="#111"/>
</g>
<g>
<rect x="527.63" y="176.75" width="1.25" height="20.05" fill="#111"/>
<rect x="526.25" y="176.75" width="4" height="1.5" fill="#111"/>
<rect x="526.25" y="195.3" width="4" height="1.5" fill="#111"/>
<rect x="524.25" y="181" width="8" height="10.1" fill="#111"/>
<rect x="525.9" y="182.65" width="4.7" height="6.8" fill="#999"/>
<rect x="525.9" y="187.2" width="4.7" height="1.2" fill="#111"/>
</g>
<g>
<rect x="539.67" y="172.25" width="1.25" height="27.05" fill="#111"/>
<rect x="538.3" y="172.25" width="4" height="1.5" fill="#111"/>
<rect x="538.3" y="197.8" width="4" height="1.5" fill="#111"/>
<rect x="536.3" y="183.3" width="8" height="11.2" fill="#111"/>
<rect x="537.95" y="184.95" width="4.7" height="7.9" fill="#666"/>
<rect x="537.95" y="190.5" width="4.7" height="1.2" fill="#111"/>
</g>
<g>
<rect x="551.72" y="177.05" width="1.25" height="24.15" fill="#111"/>
<rect x="550.34" y="177.05" width="4" height="1.5" fill="#111"/>
<rect x="550.34" y="199.7" width="4" height="1.5" fill="#111"/>
<rect x="548.34" y="184.3" width="8" height="10.6" fill="#111"/>
<rect x="549.99" y="185.95" width="4.7" height="7.3" fill="#ddd"/>
<rect x="549.99" y="188.1" width="4.7" height="1.2" fill="#111"/>
</g>
<g>
<rect x="563.76" y="178.65" width="1.25" height="21.65" fill="#111"/>
<rect x="562.39" y="178.65" width="4" height="1.5" fill="#111"/>
<rect x="562.39" y="198.8" width="4" height="1.5" fill="#111"/>
<rect x="560.39" y="186.2" width="8" height="7.8" fill="#111"/>
<rect x="562.04" y="187.85" width="4.7" height="4.5" fill="#555"/>
<rect x="562.04" y="188.9" width="4.7" height="1.2" fill="#111"/>
</g>
<g>
<rect x="575.81" y="177.05" width="1.25" height="30.35" fill="#111"/>
<rect x="574.43" y="177.05" width="4" height="1.5" fill="#111"/>
<rect x="574.43" y="205.9" width="4" height="1.5" fill="#111"/>
<rect x="572.43" y="184.3" width="8" height="8.7" fill="#111"/>
<rect x="574.08" y="185.95" width="4.7" height="5.4" fill="#999"/>
<rect x="574.08" y="188.5" width="4.7" height="1.2" fill="#111"/>
</g>
<g>
<rect x="587.85" y="178.65" width="1.25" height="18.15" fill="#111"/>
<rect x="586.48" y="178.65" width="4" height="1.5" fill="#111"/>
<rect x="586.48" y="195.3" width="4" height="1.5" fill="#111"/>
<rect x="584.48" y="183.7" width="8" height="6.4" fill="#111"/>
<rect x="586.13" y="185.35" width="4.7" height="3.1" fill="#555"/>
<rect x="586.13" y="186.9" width="4.7" height="1.2" fill="#111"/>
</g>
<g>
<rect x="599.9" y="172.25" width="1.25" height="23.55" fill="#111"/>
<rect x="598.52" y="172.25" width="4" height="1.5" fill="#111"/>
<rect x="598.52" y="194.3" width="4" height="1.5" fill="#111"/>
<rect x="596.52" y="183.7" width="8" height="7.4" fill="#111"/>
<rect x="598.17" y="185.35" width="4.7" height="4.1" fill="#eee"/>
<rect x="598.17" y="186.9" width="4.7" height="1.2" fill="#111"/>
</g>
<g>
<rect x="611.94" y="177.65" width="1.25" height="24.35" fill="#111"/>
<rect x="610.57" y="177.65" width="4" height="1.5" fill="#111"/>
<rect x="610.57" y="200.5" width="4" height="1.5" fill="#111"/>
<rect x="608.57" y="184.3" width="8" height="10" fill="#111"/>
<rect x="610.22" y="185.95" width="4.7" height="6.7" fill="#777"/>
<rect x="610.22" y="190.4" width="4.7" height="1.2" fill="#111"/>
</g>
<g>
<rect x="623.99" y="178.65" width="1.25" height="21.95" fill="#111"/>
<rect x="622.61" y="178.65" width="4" height="1.5" fill="#111"/>
<rect x="622.61" y="199.1" width="4" height="1.5" fill="#111"/>
<rect x="620.61" y="183.9" width="8" height="7.5" fill="#111"/>
<rect x="622.26" y="185.55" width="4.7" height="4.2" fill="#777"/>
<rect x="622.26" y="186.9" width="4.7" height="1.2" fill="#111"/>
</g>
<g>
<rect x="636.03" y="172.25" width="1.25" height="24.55" fill="#111"/>
<rect x="634.66" y="172.25" width="4" height="1.5" fill="#111"/>
<rect x="634.66" y="195.3" width="4" height="1.5" fill="#111"/>
<rect x="632.66" y="180.1" width="8" height="9" fill="#111"/>
<rect x="634.31" y="181.75" width="4.7" height="5.7" fill="#999"/>
<rect x="634.31" y="185.6" width="4.7" height="1.2" fill="#111"/>
</g>
<g>
<rect x="648.08" y="172.25" width="1.25" height="29.75" fill="#111"/>
<rect x="646.7" y="172.25" width="4" height="1.5" fill="#111"/>
<rect x="646.7" y="200.5" width="4" height="1.5" fill="#111"/>
<rect x="644.7" y="183.3" width="8" height="11" fill="#111"/>
<rect x="646.35" y="184.95" width="4.7" height="7.7" fill="#777"/>
<rect x="646.35" y="191.4" width="4.7" height="1.2" fill="#111"/>
</g>
<g>
<rect x="660.12" y="177.05" width="1.25" height="26.45" fill="#111"/>
<rect x="658.75" y="177.05" width="4" height="1.5" fill="#111"/>
<rect x="658.75" y="202" width="4" height="1.5" fill="#111"/>
<rect x="656.75" y="183.3" width="8" height="12" fill="#111"/>
<rect x="658.4" y="184.95" width="4.7" height="8.7" fill="#ddd"/>
<rect x="658.4" y="191.4" width="4.7" height="1.2" fill="#111"/>
</g>
<text x="0.6" y="11.7" font-family="Liberation Sans, sans-serif" font-weight="bold" font-size="15" fill="#111" stroke="#111" stroke-width="0.45">A</text>
<text x="342.0" y="12.3" font-family="Liberation Sans, sans-serif" font-weight="bold" font-size="15" fill="#111" stroke="#111" stroke-width="0.35">B</text>
<text x="140" y="10" textLength="93.0" lengthAdjust="spacing" font-family="Liberation Sans, sans-serif" font-weight="bold" font-size="12" fill="#111">2D-HTS (1 day)</text>
<text x="140" y="151.9" textLength="93.0" lengthAdjust="spacing" font-family="Liberation Sans, sans-serif" font-weight="bold" font-size="12" fill="#111">2D-HTS (7 day)</text>
<text x="490.4" y="12" textLength="93.0" lengthAdjust="spacing" font-family="Liberation Sans, sans-serif" font-weight="bold" font-size="12" fill="#111">3D-HTS (1 day)</text>
<text x="490.4" y="153.8" textLength="93.0" lengthAdjust="spacing" font-family="Liberation Sans, sans-serif" font-weight="bold" font-size="12" fill="#111">3D-HTS (7 day)</text>
<text transform="translate(241.7,87.3) scale(0.9,1)" textLength="90.44" lengthAdjust="spacing" font-family="Liberation Sans, sans-serif" font-weight="bold" font-size="15.6" fill="#111">CV : 5.53 %</text>
<text transform="translate(241.5,225.6) scale(0.9,1)" textLength="90.44" lengthAdjust="spacing" font-family="Liberation Sans, sans-serif" font-weight="bold" font-size="15.6" fill="#111">CV : 2.75 %</text>
<text transform="translate(586.4,87.3) scale(0.9,1)" textLength="90.44" lengthAdjust="spacing" font-family="Liberation Sans, sans-serif" font-weight="bold" font-size="15.6" fill="#111">CV : 4.49 %</text>
<text transform="translate(586.4,225.6) scale(0.9,1)" textLength="90.44" lengthAdjust="spacing" font-family="Liberation Sans, sans-serif" font-weight="bold" font-size="15.6" fill="#111">CV : 5.66 %</text>
<text transform="translate(15.6,89.4) rotate(-90)" textLength="59" lengthAdjust="spacingAndGlyphs" font-family="Liberation Sans, sans-serif" font-weight="bold" font-size="10.2" fill="#111">Normalized</text>
<text transform="translate(28.8,103) rotate(-90)" textLength="68.4" lengthAdjust="spacingAndGlyphs" font-family="Liberation Sans, sans-serif" font-weight="bold" font-size="10.2" fill="#111">Cell Viability</text>
<text transform="translate(29,30.6) rotate(-90)" textLength="17.6" lengthAdjust="spacingAndGlyphs" font-family="Liberation Sans, sans-serif" font-size="10.5" fill="#111" stroke="#111" stroke-width="0.4">[%]</text>
<text transform="translate(360.6,89.4) rotate(-90)" textLength="59" lengthAdjust="spacingAndGlyphs" font-family="Liberation Sans, sans-serif" font-weight="bold" font-size="10.2" fill="#111">Normalized</text>
<text transform="translate(373.8,103) rotate(-90)" textLength="68.4" lengthAdjust="spacingAndGlyphs" font-family="Liberation Sans, sans-serif" font-weight="bold" font-size="10.2" fill="#111">Cell Viability</text>
<text transform="translate(374,30.6) rotate(-90)" textLength="17.6" lengthAdjust="spacingAndGlyphs" font-family="Liberation Sans, sans-serif" font-size="10.5" fill="#111" stroke="#111" stroke-width="0.4">[%]</text>
<text transform="translate(15.6,228.9) rotate(-90)" textLength="59" lengthAdjust="spacingAndGlyphs" font-family="Liberation Sans, sans-serif" font-weight="bold" font-size="10.2" fill="#111">Normalized</text>
<text transform="translate(28.8,242.5) rotate(-90)" textLength="68.4" lengthAdjust="spacingAndGlyphs" font-family="Liberation Sans, sans-serif" font-weight="bold" font-size="10.2" fill="#111">Cell Viability</text>
<text transform="translate(29,170.1) rotate(-90)" textLength="17.6" lengthAdjust="spacingAndGlyphs" font-family="Liberation Sans, sans-serif" font-size="10.5" fill="#111" stroke="#111" stroke-width="0.4">[%]</text>
<text transform="translate(360.6,228.9) rotate(-90)" textLength="59" lengthAdjust="spacingAndGlyphs" font-family="Liberation Sans, sans-serif" font-weight="bold" font-size="10.2" fill="#111">Normalized</text>
<text transform="translate(373.8,242.5) rotate(-90)" textLength="68.4" lengthAdjust="spacingAndGlyphs" font-family="Liberation Sans, sans-serif" font-weight="bold" font-size="10.2" fill="#111">Cell Viability</text>
<text transform="translate(374,170.1) rotate(-90)" textLength="17.6" lengthAdjust="spacingAndGlyphs" font-family="Liberation Sans, sans-serif" font-size="10.5" fill="#111" stroke="#111" stroke-width="0.4">[%]</text>
</svg>
</body></html>
